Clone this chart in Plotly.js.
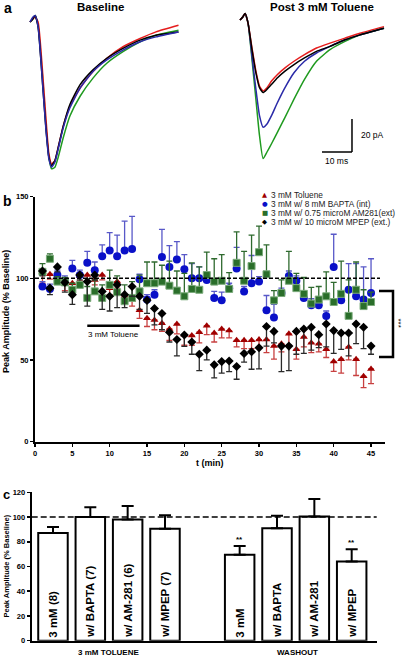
<!DOCTYPE html>
<html><head><meta charset="utf-8">
<script src="https://cdn.plot.ly/plotly-3.0.1.min.js"></script>
<style>html,body{margin:0;padding:0;background:#fff}#chart{width:402px;height:656px}</style>
</head><body><div id="chart"></div>
<script>
// ---------- Panel a : example EPSC traces (time in ms, current in pA) ----------
const tBase = [0, 1, 1.7, 2.7, 4.3, 5.3, 6.3, 7.2, 8.3, 9.4, 11.1, 13.3, 16.7, 21, 25.6, 31, 36.7, 42, 49.5];
const baseBlack = [0, 2, 4, -3, -40, -64, -82, -87, -84, -76, -63, -50, -38, -29, -22, -16, -11, -8, -6];
const baseBlue  = [0, 3, 4, -3, -40, -65, -83, -88, -85, -77, -64, -52, -40, -30, -23, -17, -12, -9, -6];
const baseGreen = [0, 2, 4, -2, -36, -62, -82, -89, -88, -82, -70, -57, -45, -34, -25, -18, -12, -8, -5];
const baseRed   = [0, 2, 3, 0, -33, -58, -80, -86, -84, -76, -63, -51, -40, -30, -22, -15, -10, -6, -2];

const tPost = [0, 1, 1.7, 2.7, 4, 5.3, 6.5, 7.7, 9, 10.5, 12.5, 15, 18, 21.5, 25.5, 30, 35, 40, 48];
const postBlack = [0, 2, 4, -2, -18, -32, -41, -44, -42, -39, -35, -31, -27, -23, -19, -16, -12, -9, -5];
const postRed   = [0, 2, 4, -2, -17, -31, -40, -43, -41, -37, -33, -29, -25, -21, -17, -14, -11, -8, -4];
const postBlue  = [0, 2, 4, -2, -22, -42, -58, -65, -63, -58, -50, -41, -32, -25, -20, -16, -12, -9, -5];
const postGreen = [0, 2, 4, -2, -24, -48, -70, -84, -80, -75, -68, -59, -48, -36, -25, -18, -13, -9, -5];

const scaleMs = 10, scalePA = 20;

// ---------- Panel b : time course (% baseline) ----------
const tMin = [1,2,3,4,5,6,7,8,9,10,11,12,13,14,15,16,17,18,19,20,21,22,23,24,25,26,27,28,29,30,31,32,33,34,35,36,37,38,39,40,41,42,43,44,45];

const tolVal = [104,102.5,100,96.5,97,101.5,102,99,102,94,98,89,87,80.5,75.5,74.5,72.5,69,72,65.5,65,67,71,66.5,69,68,62,62,62,62.5,62.5,58.5,60,66,56.5,64,60.5,60,56.5,49,50.5,58,50.5,40,44.5];
const tolErr = [7,3,3,4,3,3,4,3,3,4,4,4,4,5,5,6,5,7,6,6.5,6,6.5,5.5,5.5,5.5,4.5,4,5,5,5,8,8,5,7,6,6,6,5,5,6,8.5,8,10,7,9];

const baptaVal = [95,93.5,102,98.5,106,102,109.5,105,113.5,117,113.5,117,118,99.5,87,90,113,107,111.5,105.5,100,100,99,88,86.5,94,106,92,97,98,80.5,76,91,101.5,98.5,88,83.5,83.5,77,107,86.5,93,89,87,91];
const baptaErr = [3,3,3,3,5,3,7,5,7,11,13,18,20,3,3,3,17,13,11,9,9,7,4,4,5,3,13,3,17,3,9,8,3,3,3,3,4,3,3,20,3,16,20,20,21];

const am281Val = [104,112,98,97.5,93,96,88,92,88,96,91.5,86,88,92,97,97,98,95.5,92.5,89,93.5,93,102,98,98.5,93.5,109.5,98.5,107.5,116,102.5,86.5,91,98.5,94,90.5,84.5,87,89,85.5,90.5,77,93,83,85.5];
const am281Err = [5,3,3,3,4,5,7,7,8,9,10,10,10,10,13,13,10,15,12,14,16,14,14,14,16,10,19,18,19,16,18,6,8,18,9,10,10,8,15,12,20,22,17,10,6];

const mpepVal = [104.5,94,107,97.5,90,102,98,102,92,89,96,90,95,89,86.5,81.5,78.5,67,62.5,65.3,61,53.5,56,47,49,49.4,46,54,55,57.5,70.5,67.5,58.5,58.5,67.5,69,70,65.5,72,68,66.5,66.5,72,70,58.5];
const mpepErr = [3,4,3,6,6,3,15,3,11,9,14,8,6,8,8,10,10,6,10,7,7.5,10,6,8,7,6.6,7.8,5.3,10.7,13,12,7,15.6,15,14,15,14,8,14,14,10,14,12,13,5];

const legendNames = ['3 mM Toluene', '3 mM w/ 8 mM BAPTA (int)', '3 mM w/ 0.75 microM AM281(ext)', '3 mM w/ 10 microM MPEP (ext.)'];
const toluenePeriod = [7, 14];

// ---------- Panel c : summary bars ----------
const barCats = ['3 mM (8)', 'w/ BAPTA (7)', 'w/ AM-281 (6)', 'w/ MPEP (7)', ' ', '3 mM', 'w/ BAPTA', 'w/ AM-281', 'w/ MPEP'];
const barLabels = ['3 mM (8)', 'w/ BAPTA (7)', 'w/ AM-281 (6)', 'w/ MPEP (7)', '3 mM', 'w/ BAPTA', 'w/ AM-281', 'w/ MPEP'];
const barVals = [87, 100, 98, 90.5, 69.5, 91, 100.5, 64];
const barErr  = [5, 8, 11, 11, 7, 10, 14, 10];
const sigLabels = ['3 mM', 'w/ MPEP'];
const groupNames = ['3 mM TOLUENE', 'WASHOUT'];

// ---------- helpers ----------
const W = 402, H = 656;
const px = x => x / W;
const py = y => 1 - y / H;
const FONT = 'Arial, "Liberation Sans", sans-serif';

const traces = [];
function trace(xa, ya, t, v, color) {
  traces.push({x: t, y: v, xaxis: xa, yaxis: ya, type: 'scatter', mode: 'lines',
    line: {color: color, width: 1.5, shape: 'spline', smoothing: 0.5}, hoverinfo: 'skip'});
}
const cRed = '#e51e1e', cGreen = '#1f9a1f', cBlue = '#2a2aa8', cBlack = '#000000';
trace('x', 'y', tBase, baseGreen, cGreen);
trace('x', 'y', tBase, baseRed, cRed);
trace('x', 'y', tBase, baseBlack, cBlack);
trace('x', 'y', tBase, baseBlue, cBlue);
trace('x4', 'y4', tPost, postGreen, cGreen);
trace('x4', 'y4', tPost, postBlue, cBlue);
trace('x4', 'y4', tPost, postRed, cRed);
trace('x4', 'y4', tPost, postBlack, cBlack);

const zeros = tMin.map(() => 0);
function series(vals, errs, up, sym, size, color, errColor, lineColor) {
  traces.push({x: tMin, y: vals, xaxis: 'x2', yaxis: 'y2', type: 'scatter', mode: 'markers',
    marker: {symbol: sym, size: size, color: color, line: {color: lineColor || color, width: lineColor ? 1 : 0}},
    error_y: {type: 'data', symmetric: false, array: up ? errs : zeros, arrayminus: up ? zeros : errs,
      color: errColor, thickness: 1.3, width: 3},
    cliponaxis: false, hoverinfo: 'skip'});
}
series(tolVal, tolErr, false, 'triangle-up', 7, '#a00000', '#c84040');
series(baptaVal, baptaErr, true, 'circle', 8, '#0a10c8', '#5858c8');
series(am281Val, am281Err, true, 'square', 7, '#2a6e2a', '#2f6a2f', '#7aaa7a');
series(mpepVal, mpepErr, false, 'diamond', 7, '#000000', '#2a2a2a');

traces.push({x: barLabels, y: barVals, xaxis: 'x3', yaxis: 'y3', type: 'bar', width: 0.79,
  marker: {color: '#ffffff', line: {color: '#000', width: 2}},
  error_y: {type: 'data', symmetric: false, array: barErr, arrayminus: barErr.map(() => 0), color: '#000', thickness: 2, width: 6},
  text: barLabels, textposition: 'inside', insidetextanchor: 'start', textangle: -90,
  textfont: {family: FONT, size: 11.5, color: '#000', weight: 'bold'}, constraintext: 'none',
  cliponaxis: false, hoverinfo: 'skip'});

const tickFont = {family: FONT, size: 7.5, color: '#000', weight: 'bold'};
const axLine = {showline: true, linewidth: 2, linecolor: '#000', ticks: 'outside', ticklen: 3, tickwidth: 1.5,
  tickcolor: '#000', showgrid: false, zeroline: false, tickfont: tickFont, fixedrange: true};

const layout = {
  width: W, height: H, margin: {l: 0, r: 0, t: 0, b: 0}, showlegend: false,
  paper_bgcolor: '#fff', plot_bgcolor: 'rgba(0,0,0,0)', font: {family: FONT, color: '#000'},
  xaxis: {domain: [px(25), px(185)], range: [-1.667, 51.667], visible: false, anchor: 'y'},
  yaxis: {domain: [py(180), py(5)], range: [-95.76, 10.30], visible: false, anchor: 'x'},
  xaxis4: {domain: [px(235), px(390)], range: [-1.667, 50], visible: false, anchor: 'y4'},
  yaxis4: {domain: [py(180), py(5)], range: [-96.97, 9.09], visible: false, anchor: 'x4'},
  xaxis2: Object.assign({}, axLine, {domain: [px(35), px(385)], range: [0, 46.87], anchor: 'y2',
    tickvals: [0, 5, 10, 15, 20, 25, 30, 35, 40, 45]}),
  yaxis2: Object.assign({}, axLine, {domain: [py(441.6), py(196.7)], range: [0, 150], anchor: 'x2',
    tickvals: [0, 50, 100, 150]}),
  xaxis3: {domain: [px(31.7), px(376.7)], range: [-0.57, 8.67], anchor: 'y3', type: 'category',
    categoryorder: 'array', categoryarray: barCats, showline: true, linewidth: 2, linecolor: '#000',
    ticks: '', showticklabels: false, showgrid: false, zeroline: false},
  yaxis3: Object.assign({}, axLine, {domain: [py(640.7), py(492.3)], range: [0, 120], anchor: 'x3',
    tickvals: [0, 20, 40, 60, 80, 100, 120]}),
  shapes: [],
  annotations: []
};

function ann(x, y, text, opt) {
  layout.annotations.push(Object.assign({xref: 'paper', yref: 'paper', x: px(x), y: py(y), text: text,
    showarrow: false, xanchor: 'center', yanchor: 'middle',
    font: {family: FONT, size: 8, color: '#000'}}, opt || {}));
}
const bold = (s, extra) => ({font: Object.assign({family: FONT, size: s, color: '#000', weight: 'bold'}, extra || {})});

// panel a
ann(8, 8, 'a', bold(14));
ann(100, 7, 'Baseline', bold(11.5));
ann(322, 7, 'Post 3 mM Toluene', bold(11.5));
const sbX1 = 37.33, sbY0 = -80;
layout.shapes.push({type: 'line', xref: 'x4', yref: 'y4', x0: sbX1 - scaleMs, x1: sbX1, y0: sbY0, y1: sbY0, line: {color: '#000', width: 1.5}});
layout.shapes.push({type: 'line', xref: 'x4', yref: 'y4', x0: sbX1, x1: sbX1, y0: sbY0, y1: sbY0 + scalePA, line: {color: '#000', width: 1.5}});
layout.annotations.push({xref: 'x4', yref: 'y4', x: sbX1 + 2.5, y: sbY0 + scalePA / 2, text: scalePA + ' pA', showarrow: false,
  xanchor: 'left', yanchor: 'middle', font: {family: FONT, size: 8.5, color: '#000'}});
layout.annotations.push({xref: 'x4', yref: 'y4', x: sbX1 - scaleMs / 2, y: sbY0 - 5.5, text: scaleMs + ' ms', showarrow: false,
  xanchor: 'center', yanchor: 'middle', font: {family: FONT, size: 8.5, color: '#000'}});

// panel b
ann(7, 201, 'b', bold(14));
ann(210, 463, 't (min)', bold(9));
ann(6, 312, 'Peak Amplitude (% Baseline)', Object.assign({textangle: -90}, bold(9)));
layout.shapes.push({type: 'line', xref: 'paper', yref: 'y2', x0: px(35), x1: px(380), y0: 100, y1: 100,
  line: {color: '#000', width: 1.5, dash: '4px,2px'}});
layout.shapes.push({type: 'line', xref: 'x2', yref: 'y2', x0: toluenePeriod[0], x1: toluenePeriod[1], y0: 71, y1: 71,
  line: {color: '#000', width: 2.5}});
layout.annotations.push({xref: 'x2', yref: 'y2', x: (toluenePeriod[0] + toluenePeriod[1]) / 2, y: 65.3, text: '3 mM Toluene',
  showarrow: false, xanchor: 'center', yanchor: 'middle', font: {family: FONT, size: 8, color: '#000'}});
const legSyms = ['▲', '●', '■', '◆'];
const legCols = ['#a00000', '#0a10c8', '#2a6e2a', '#000000'];
const legY = [195, 204, 212.7, 221.7];
legendNames.forEach((n, i) => {
  ann(264.5, legY[i], legSyms[i], {font: {family: 'DejaVu Sans', size: 6.5, color: legCols[i]}});
  ann(268.5, legY[i], n, {xanchor: 'left', font: {family: FONT, size: 8.3, color: '#222'}});
});
layout.shapes.push({type: 'path', xref: 'paper', yref: 'paper',
  path: `M ${px(379)} ${py(291)} L ${px(393)} ${py(291)} L ${px(393)} ${py(357)} L ${px(379)} ${py(357)}`,
  line: {color: '#000', width: 2.5}});
ann(398.5, 323, '***', {textangle: 90, font: {family: FONT, size: 8, color: '#000'}});

// panel c
ann(6, 494, 'c', bold(13));
ann(5.5, 566, 'Peak Amplitude (% Baseline)', Object.assign({textangle: -90}, bold(7.5)));
layout.shapes.push({type: 'line', xref: 'paper', yref: 'y3', x0: px(31.7), x1: px(376.7), y0: 100, y1: 100,
  line: {color: '#000', width: 1.5, dash: '6px,3px'}});
sigLabels.forEach(l => {
  const i = barLabels.indexOf(l);
  layout.annotations.push({xref: 'x3', yref: 'y3', x: l, y: barVals[i] + barErr[i], text: '**', showarrow: false,
    xanchor: 'center', yanchor: 'bottom', yshift: 0, font: {family: FONT, size: 8, color: '#000', weight: 'bold'}});
});
ann(108, 652, groupNames[0], bold(8));
ann(297, 652, groupNames[1], bold(8));

Plotly.newPlot('chart', traces, layout, {staticPlot: true, displayModeBar: false});
</script></body></html>
